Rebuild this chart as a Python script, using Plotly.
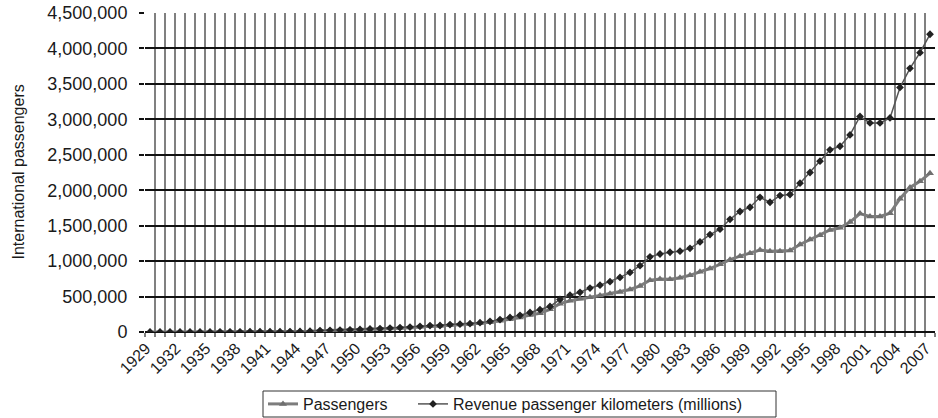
import plotly.graph_objects as go

years = list(range(1929, 2008))

passengers = [
    300, 400, 500, 600, 800, 1000, 1300, 1700, 2100, 2600,
    3000, 3400, 4000, 4500, 5500, 7000, 10000, 17000, 21000, 24000,
    27000, 31000, 37000, 43000, 50000, 56000, 64000, 74000, 82000, 85000,
    95000, 105000, 112000, 122000, 137000, 158000, 180000, 205000, 240000, 265000,
    320000, 400000, 440000, 470000, 490000, 515000, 540000, 565000, 600000, 650000,
    730000, 748000, 745000, 765000, 800000, 850000, 895000, 955000, 1020000, 1070000,
    1110000, 1155000, 1140000, 1140000, 1150000, 1235000, 1305000, 1365000, 1440000, 1470000,
    1550000, 1670000, 1630000, 1630000, 1675000, 1880000, 2040000, 2125000, 2240000,
]

rpk = [
    200, 300, 400, 500, 700, 1000, 1500, 2000, 2500, 3000,
    3500, 3800, 4500, 5000, 6500, 8000, 12000, 20000, 24000, 27000,
    31000, 36000, 42000, 49000, 56000, 62000, 70000, 80000, 90000, 92000,
    105000, 110000, 118000, 132000, 150000, 175000, 205000, 235000, 275000, 315000,
    360000, 460000, 520000, 560000, 620000, 660000, 710000, 770000, 840000, 935000,
    1060000, 1100000, 1125000, 1140000, 1180000, 1270000, 1375000, 1450000, 1590000, 1700000,
    1760000, 1900000, 1830000, 1925000, 1940000, 2100000, 2250000, 2410000, 2570000, 2620000,
    2780000, 3040000, 2950000, 2950000, 3020000, 3450000, 3720000, 3940000, 4200000,
]

label_years = list(range(1929, 2008, 3))
y_ticks = list(range(0, 4500001, 500000))

FONT = "Arial, Liberation Sans, Helvetica, sans-serif"
TXT = "#1a1a1a"

W, H = 938, 418
ML, MR, MT, MB = 145, 3, 13, 86
PW, PH = W - ML - MR, H - MT - MB


def px_x(x):
    return (x - ML) / PW


def px_y(y):
    return (H - MB - y) / PH


fig = go.Figure()
fig.add_trace(go.Scatter(
    x=years, y=passengers, name="Passengers", mode="lines+markers",
    line=dict(color="#7d7d7d", width=3),
    marker=dict(symbol="triangle-up", size=7, color="#6f6f6f"),
    legend="legend",
))
fig.add_trace(go.Scatter(
    x=years, y=rpk, name="Revenue passenger kilometers (millions)", mode="lines+markers",
    line=dict(color="#555555", width=1.5),
    marker=dict(symbol="diamond", size=6, color="#222222"),
    legend="legend2",
))

leg_common = dict(
    orientation="h", xanchor="left", yanchor="middle",
    bgcolor="rgba(0,0,0,0)", borderwidth=0,
    font=dict(family=FONT, size=16, color=TXT), itemwidth=30,
)

fig.update_layout(
    width=W, height=H,
    margin=dict(l=ML, r=MR, t=MT, b=MB, autoexpand=False),
    paper_bgcolor="white", plot_bgcolor="white",
    font=dict(family=FONT, size=16, color=TXT),
    showlegend=True,
    legend=dict(x=px_x(263), y=px_y(404), **leg_common),
    legend2=dict(x=px_x(413), y=px_y(404), **leg_common),
    shapes=[dict(
        type="rect", xref="paper", yref="paper",
        x0=px_x(263), x1=px_x(776), y0=px_y(391), y1=px_y(417),
        line=dict(color="#333333", width=1), fillcolor="rgba(0,0,0,0)",
        layer="below",
    )],
    annotations=[dict(
        text="International passengers", xref="paper", yref="paper",
        x=px_x(18), y=0.5, textangle=-90, showarrow=False,
        xanchor="center", yanchor="middle",
        font=dict(family=FONT, size=16, color=TXT),
    )],
)

fig.update_xaxes(
    range=[1928.5, 2007.5],
    tickmode="array", tickvals=label_years, ticktext=[str(y) for y in label_years],
    tickangle=-45, ticks="", showgrid=False, zeroline=False, showline=False,
    ticklabelstandoff=3, ticklabelshift=-4,
    tickfont=dict(family=FONT, size=16, color=TXT),
    minor=dict(tick0=1928.5, dtick=1, showgrid=True, gridcolor="#808080", gridwidth=2,
               ticks="outside", ticklen=4, tickcolor="#808080", tickwidth=2),
)
fig.update_yaxes(
    range=[0, 4500000], tickmode="array", tickvals=y_ticks,
    tickformat=",d",
    showgrid=True, gridcolor="#111111", gridwidth=2,
    zeroline=True, zerolinecolor="#111111", zerolinewidth=2,
    ticks="outside", ticklen=5, tickcolor="#111111", tickwidth=2,
    ticklabelstandoff=8,
    tickfont=dict(family=FONT, size=18, color=TXT),
    showline=False,
)

fig.write_html(
    "out.html",
    config={"displayModeBar": False},
    post_script="document.body.style.margin='0px';",
)
